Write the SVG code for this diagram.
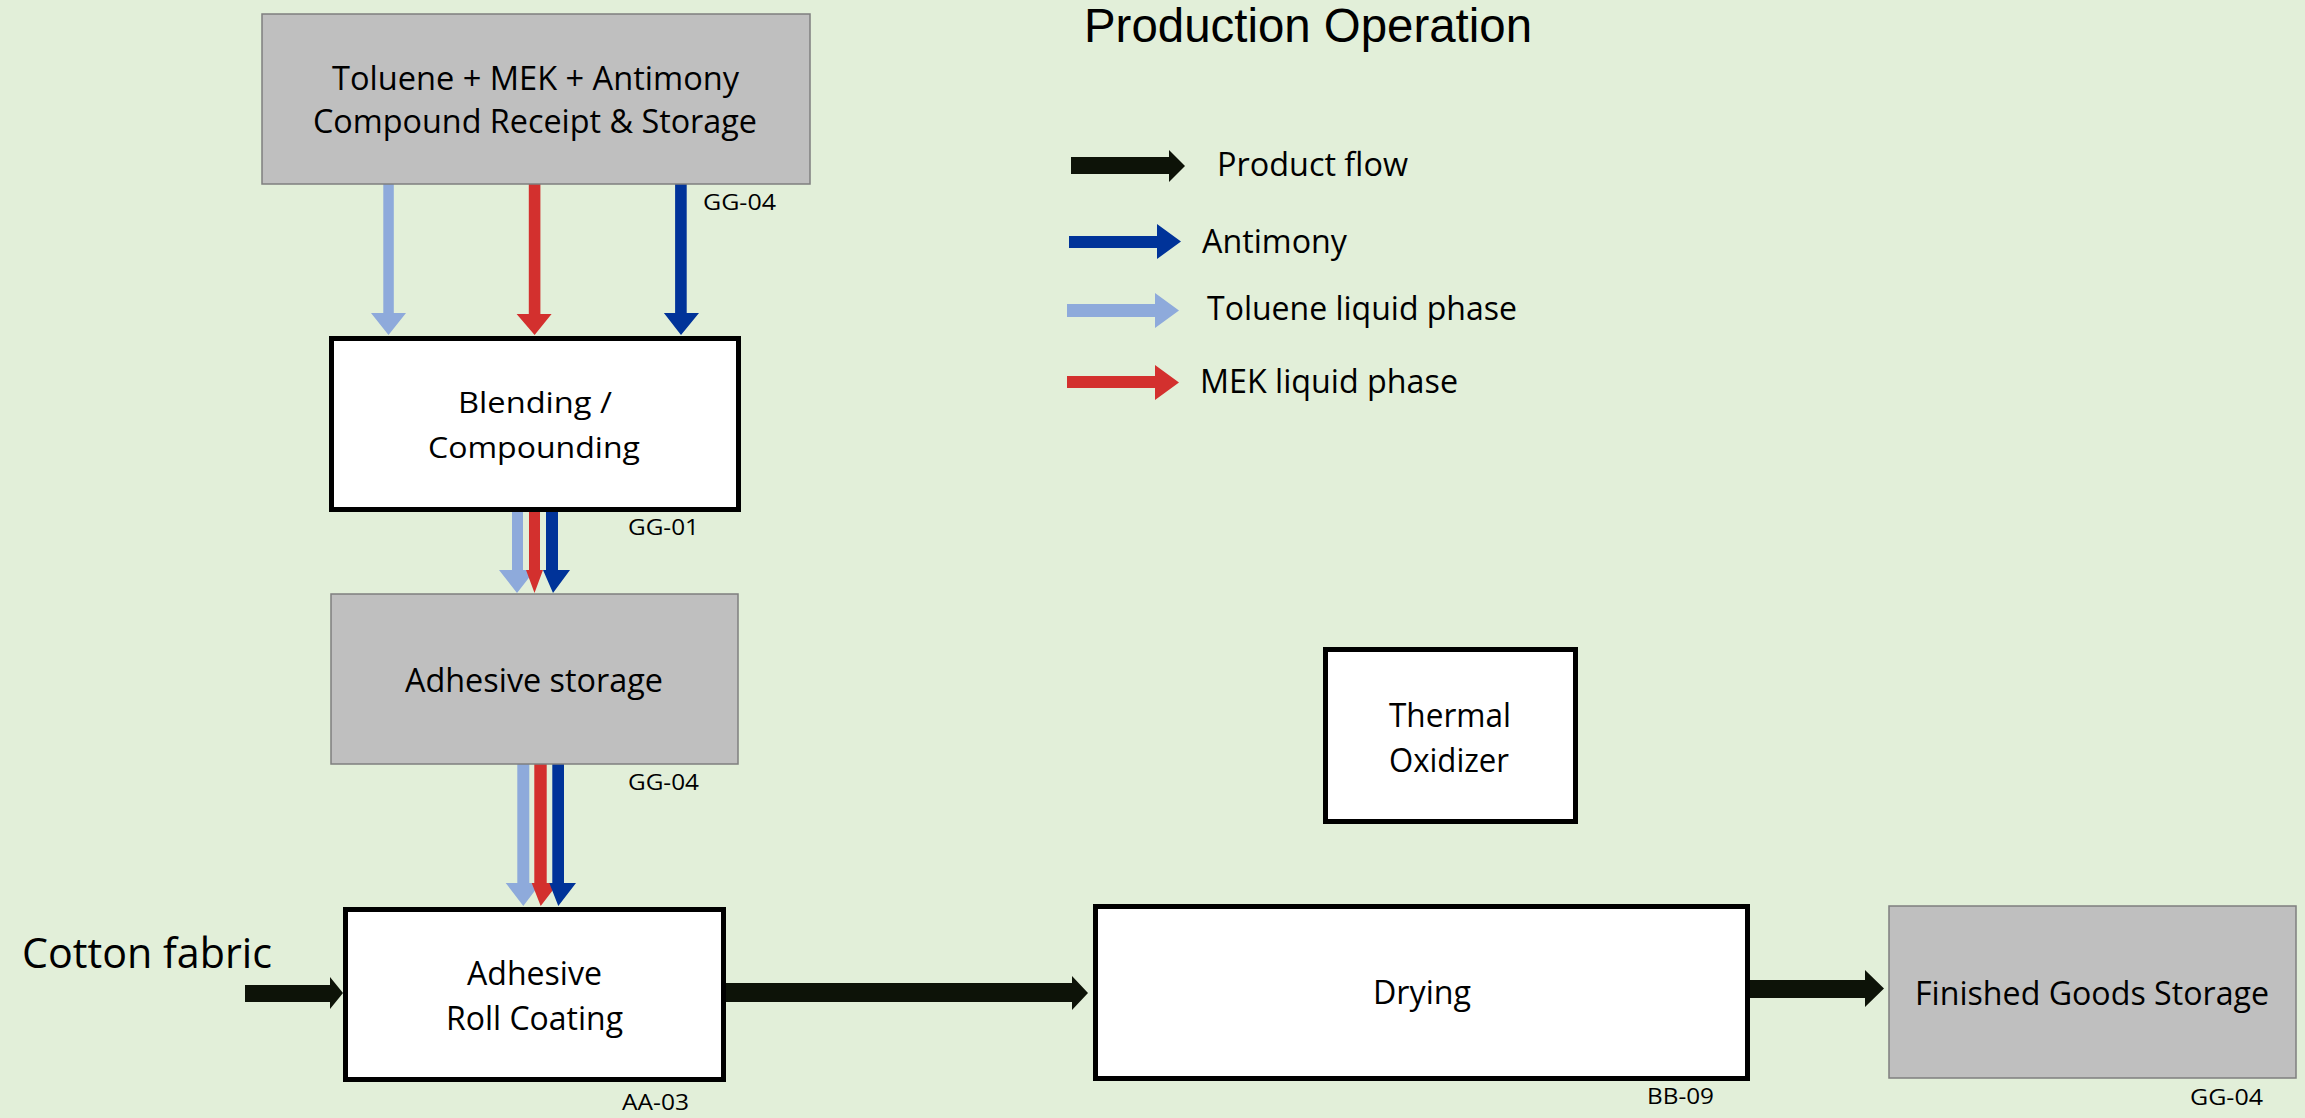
<svg xmlns="http://www.w3.org/2000/svg" width="2305" height="1118" viewBox="0 0 2305 1118">
  <style>
    text { font-family: "Open Sans", "Noto Sans", "Liberation Sans", sans-serif; fill: #000; }
    .store { fill: #bfbfbf; stroke: #7f7f7f; stroke-width: 1.5; }
    .proc { fill: #ffffff; stroke: #000; stroke-width: 5; }
    .lbl { font-size: 32px; text-anchor: start; }
    .tag { font-size: 21px; }
    .title { font-family: "Liberation Sans", Arial, sans-serif; font-size: 48px; }
    .prod { fill: #0d1308; }
    .tol { fill: #8eaadb; }
    .mek { fill: #d3302e; }
    .sb { fill: #003399; }
  </style>

  <rect width="2305" height="1118" fill="#e2efd9"/>

  <text class="title" x="1084" y="42" textLength="448" lengthAdjust="spacingAndGlyphs">Production Operation</text>

  <!-- Legend -->
  <g id="legend">
    <polygon class="prod" points="1071,157 1169,157 1169,150 1185,166 1169,182 1169,174 1071,174"/>
    <text class="lbl" x="1217" y="176" textLength="191" lengthAdjust="spacingAndGlyphs">Product flow</text>
    <polygon class="sb" points="1069,236 1157,236 1157,224 1181,241.5 1157,259 1157,248 1069,248"/>
    <text class="lbl" x="1202" y="253" textLength="145" lengthAdjust="spacingAndGlyphs">Antimony</text>
    <polygon class="tol" points="1067,304 1155,304 1155,293 1179,310.5 1155,328 1155,317 1067,317"/>
    <text class="lbl" x="1207" y="320" textLength="310" lengthAdjust="spacingAndGlyphs">Toluene liquid phase</text>
    <polygon class="mek" points="1067,376 1155,376 1155,365 1179,382.5 1155,400 1155,388 1067,388"/>
    <text class="lbl" x="1200" y="393" textLength="258" lengthAdjust="spacingAndGlyphs">MEK liquid phase</text>
  </g>

  <!-- Flow connectors -->
  <g id="connectors">
    <!-- receipt & storage to blending -->
    <polygon class="tol" points="383.3,184 393.8,184 393.8,313 406,313 388.5,335 371,313 383.3,313"/>
    <polygon class="mek" points="528.8,184 540.4,184 540.4,314 551.6,314 534.6,335 516.6,314 528.8,314"/>
    <polygon class="sb" points="675.1,184 686.7,184 686.7,313 699,313 681,335 663.9,313 675.1,313"/>

    <!-- blending to adhesive storage -->
    <polygon class="tol" points="512,512 523,512 523,570 535,570 517,593 499,570 512,570"/>
    <polygon class="mek" points="529,512 540,512 540,570 543,570 534.5,593 526,570 529,570"/>
    <polygon class="sb" points="546,512 558,512 558,570 570,570 553,593 543,570 546,570"/>

    <!-- adhesive storage to roll coating -->
    <polygon class="tol" points="517.3,764 529.3,764 529.3,883 540.7,883 523.3,906 505.7,883 517.3,883"/>
    <polygon class="mek" points="534.3,764 546.7,764 546.7,883 558.3,883 540.7,906 531.7,883 534.3,883"/>
    <polygon class="sb" points="552.3,764 564,764 564,883 576,883 558.3,906 549.3,883 552.3,883"/>

    <!-- product flow -->
    <polygon class="prod" points="245,985 330,985 330,977 343,993 330,1009 330,1002 245,1002"/>
    <polygon class="prod" points="725,983 1072,983 1072,976 1088,993 1072,1010 1072,1002 725,1002"/>
    <polygon class="prod" points="1748,980 1865,980 1865,970 1884,988.5 1865,1007 1865,998 1748,998"/>
  </g>

  <g id="receipt-storage">
    <rect class="store" x="262" y="14" width="548" height="170"/>
    <text class="lbl" x="332" y="90" textLength="407" lengthAdjust="spacingAndGlyphs">Toluene + MEK + Antimony</text>
    <text class="lbl" x="313" y="133" textLength="444" lengthAdjust="spacingAndGlyphs">Compound Receipt &amp; Storage</text>
    <text class="tag" x="703" y="210" textLength="73" lengthAdjust="spacingAndGlyphs">GG-04</text>
  </g>

  <g id="blending">
    <rect class="proc" x="331.5" y="338.5" width="407" height="171"/>
    <text class="lbl" x="458" y="413" style="font-size:30px" textLength="154" lengthAdjust="spacingAndGlyphs">Blending /</text>
    <text class="lbl" x="428" y="458" style="font-size:30px" textLength="212" lengthAdjust="spacingAndGlyphs">Compounding</text>
    <text class="tag" x="628" y="535" textLength="71" lengthAdjust="spacingAndGlyphs">GG-01</text>
  </g>

  <g id="adhesive-storage">
    <rect class="store" x="331" y="594" width="407" height="170"/>
    <text class="lbl" x="405" y="692" textLength="258" lengthAdjust="spacingAndGlyphs">Adhesive storage</text>
    <text class="tag" x="628" y="790" textLength="71" lengthAdjust="spacingAndGlyphs">GG-04</text>
  </g>

  <g id="cotton-fabric">
    <text class="lbl" x="22" y="968" style="font-size:42px" textLength="250" lengthAdjust="spacingAndGlyphs">Cotton fabric</text>
  </g>

  <g id="roll-coating">
    <rect class="proc" x="345.5" y="909.5" width="378" height="170"/>
    <text class="lbl" x="467" y="985" textLength="135" lengthAdjust="spacingAndGlyphs">Adhesive</text>
    <text class="lbl" x="446" y="1030" textLength="177" lengthAdjust="spacingAndGlyphs">Roll Coating</text>
    <text class="tag" x="622" y="1110" textLength="67" lengthAdjust="spacingAndGlyphs">AA-03</text>
  </g>

  <g id="thermal-oxidizer">
    <rect class="proc" x="1325.5" y="649.5" width="250" height="172"/>
    <text class="lbl" x="1389" y="727" textLength="122" lengthAdjust="spacingAndGlyphs">Thermal</text>
    <text class="lbl" x="1389" y="772" textLength="120" lengthAdjust="spacingAndGlyphs">Oxidizer</text>
  </g>

  <g id="drying">
    <rect class="proc" x="1095.5" y="906.5" width="652" height="172"/>
    <text class="lbl" x="1373" y="1004" textLength="98" lengthAdjust="spacingAndGlyphs">Drying</text>
    <text class="tag" x="1647" y="1104" textLength="67" lengthAdjust="spacingAndGlyphs">BB-09</text>
  </g>

  <g id="finished-goods">
    <rect class="store" x="1889" y="906" width="407" height="172"/>
    <text class="lbl" x="1915" y="1005" textLength="354" lengthAdjust="spacingAndGlyphs">Finished Goods Storage</text>
    <text class="tag" x="2190" y="1105" textLength="73" lengthAdjust="spacingAndGlyphs">GG-04</text>
  </g>
</svg>
